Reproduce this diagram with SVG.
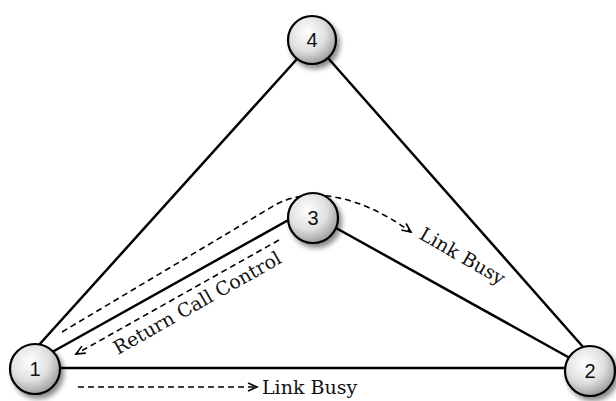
<svg xmlns="http://www.w3.org/2000/svg" width="616" height="401" viewBox="0 0 616 401">
<style>
.edge{stroke:#000;stroke-width:2.5;fill:none;stroke-linecap:round}
.dash{stroke:#000;stroke-width:1.6;fill:none;stroke-dasharray:6 4}
.node{fill:url(#g);stroke:#000;stroke-width:2.2;filter:url(#sh)}
.num{font-family:"Liberation Sans",Arial,sans-serif;font-size:20px;fill:#111;text-anchor:middle}
.lbl{font-family:"DejaVu Serif","Liberation Serif",serif;font-size:19px;fill:#111}
</style>
<defs>
<radialGradient id="g" cx="0.4" cy="0.35" r="0.7">
<stop offset="0" stop-color="#ffffff"/>
<stop offset="0.55" stop-color="#e0e0e0"/>
<stop offset="1" stop-color="#969696"/>
</radialGradient>
<filter id="sh" x="-30%" y="-30%" width="170%" height="170%">
<feDropShadow dx="3" dy="4" stdDeviation="2.5" flood-color="#000" flood-opacity="0.45"/>
</filter>
<marker id="ar" markerWidth="12" markerHeight="10" refX="10" refY="5" orient="auto" markerUnits="userSpaceOnUse">
<path d="M1,1 L10,5 L1,9" fill="none" stroke="#000" stroke-width="1.6"/>
</marker>
</defs>
<g id="connectors">
<line class="edge" x1="297" y1="59" x2="38" y2="346"/>
<line class="edge" x1="328" y1="58" x2="584" y2="348"/>
<line class="edge" x1="54" y1="351" x2="292" y2="218"/>
<line class="edge" x1="336" y1="228" x2="568" y2="357"/>
<line class="edge" x1="58" y1="368" x2="566" y2="368"/>
<path class="dash" d="M62,332 L275,205 C310,186 360,195 411,232" marker-end="url(#ar)"/>
<path class="dash" d="M279,240 L76,354" marker-end="url(#ar)"/>
<path class="dash" d="M78,387 L257,387" marker-end="url(#ar)"/>
<text class="lbl" transform="translate(118,355) rotate(-29.4)">Return Call Control</text>
<text class="lbl" transform="translate(418,238) rotate(30)">Link Busy</text>
<text class="lbl" x="262" y="394">Link Busy</text>
</g>
<g id="node4"><circle class="node" cx="312" cy="40" r="24"/><text class="num" x="312" y="47">4</text></g>
<g id="node3"><circle class="node" cx="313" cy="218" r="25"/><text class="num" x="313" y="225">3</text></g>
<g id="node1"><circle class="node" cx="35" cy="369" r="25"/><text class="num" x="35" y="376">1</text></g>
<g id="node2"><circle class="node" cx="590" cy="371" r="25"/><text class="num" x="590" y="378">2</text></g>
</svg>
